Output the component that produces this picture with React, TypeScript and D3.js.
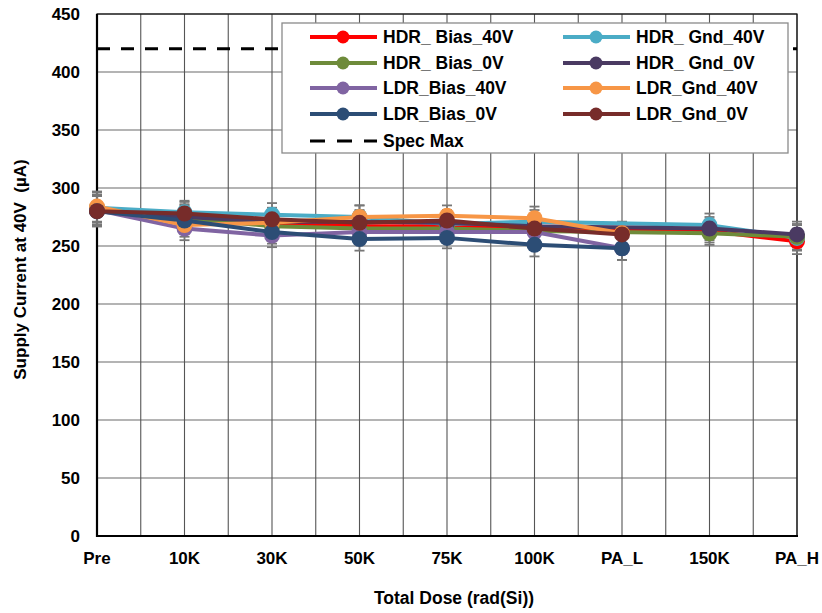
import React from "react";
import * as d3 from "d3";

const categories = ["Pre", "10K", "30K", "50K", "75K", "100K", "PA_L", "150K", "PA_H"];
const yTicks = [0, 50, 100, 150, 200, 250, 300, 350, 400, 450];

// null = no measurement at that step
const hdrBias40 = [281, 276, 270, 267, 267, 265, null, 263, 254];
const hdrGnd40 = [283, 279, 277, 275, 269, 271, null, 268, 257];
const hdrBias0 = [281, 274, 267, 265, 265, 263, null, 261, 258];
const hdrGnd0 = [280, 275, 271, 271, 270, 267, null, 265, 260];
const ldrBias40 = [281, 265, 259, 262, 262, 262, 248, null, null];
const ldrGnd40 = [284, 268, 270, 275, 276, 274, 261, null, null];
const ldrBias0 = [280, 272, 262, 256, 257, 251, 248, null, null];
const ldrGnd0 = [280, 278, 273, 270, 272, 265, 260, null, null];
const errorBars = [13, 10, 10, 10, 9, 10, 10, 10, 11];
const specMax = 420;

const seriesNames = [
  "HDR_ Bias_40V", "HDR_ Gnd_40V", "HDR_ Bias_0V", "HDR_ Gnd_0V",
  "LDR_Bias_40V", "LDR_Gnd_40V", "LDR_Bias_0V", "LDR_Gnd_0V",
];
const seriesValues = [hdrBias40, hdrGnd40, hdrBias0, hdrGnd0, ldrBias40, ldrGnd40, ldrBias0, ldrGnd0];
const seriesColors = ["#FF0000", "#4BACC6", "#6E8B3A", "#4A3A62", "#8064A2", "#F79646", "#2C4D75", "#772C2A"];

const W = 822, H = 613;
const L = 97, R = 797, T = 14, B = 536;
const FONT = "Liberation Sans, Arial, sans-serif";

export default function App() {
  const x = d3.scalePoint<string>().domain(categories).range([L, R]).padding(0);
  const y = d3.scaleLinear().domain([0, 450]).range([B, T]);
  const step = x.step();

  const vGrid: number[] = [];
  categories.forEach((c, i) => {
    vGrid.push(x(c)!);
    if (i < categories.length - 1) vGrid.push(x(c)! + step / 2);
  });

  const line = d3
    .line<{ c: string; v: number }>()
    .x((d) => x(d.c)!)
    .y((d) => y(d.v));

  const seriesPts = seriesValues.map((vals) =>
    vals
      .map((v, i) => ({ c: categories[i], v: v as number, e: errorBars[i] }))
      .filter((d) => d.v !== null && d.v !== undefined)
  );

  const legendX = 282, legendY = 23, legendW = 506, legendH = 130;
  const rowY = [37, 63, 88, 114, 141];
  const colX = [310, 563];

  return (
    <svg width={W} height={H} style={{ position: "absolute", left: 0, top: 0, background: "#fff" }} fontFamily={FONT}>
      <rect x={0} y={0} width={W} height={H} fill="#fff" />
      {/* horizontal grid */}
      {yTicks.map((t) => (
        <line key={"h" + t} x1={L} x2={R} y1={y(t)} y2={y(t)} stroke="#6b6b6b" strokeWidth={1.2} />
      ))}
      {/* vertical grid */}
      {vGrid.map((gx, i) => (
        <line key={"v" + i} x1={gx} x2={gx} y1={T} y2={B} stroke="#555" strokeWidth={1.1} />
      ))}
      {/* plot border */}
      <rect x={L} y={T} width={R - L} height={B - T} fill="none" stroke="#111" strokeWidth={1.2} />
      <line x1={L} x2={L} y1={T} y2={B + 1} stroke="#000" strokeWidth={2.2} />
      <line x1={L} x2={R + 1} y1={B} y2={B} stroke="#000" strokeWidth={2.2} />

      {/* spec max */}
      <line x1={L} x2={R} y1={y(specMax)} y2={y(specMax)} stroke="#000" strokeWidth={3} strokeDasharray="13,11" />

      {/* error bars */}
      {seriesPts.map((pts, si) =>
        pts.map((d, i) => {
          const cx = x(d.c)!;
          const y1 = y(d.v + d.e), y2 = y(d.v - d.e);
          return (
            <g key={"e" + si + "-" + i} stroke="#777" strokeWidth={1.8}>
              <line x1={cx} x2={cx} y1={y1} y2={y2} />
              <line x1={cx - 5} x2={cx + 5} y1={y1} y2={y1} />
              <line x1={cx - 5} x2={cx + 5} y1={y2} y2={y2} />
            </g>
          );
        })
      )}

      {/* series */}
      {seriesPts.map((pts, si) => (
        <g key={"s" + si}>
          <path d={line(pts) || ""} fill="none" stroke={seriesColors[si]} strokeWidth={4} strokeLinejoin="round" />
          {pts.map((d, i) => (
            <circle key={i} cx={x(d.c)!} cy={y(d.v)} r={8} fill={seriesColors[si]} />
          ))}
        </g>
      ))}

      {/* y tick labels */}
      {yTicks.map((t) => (
        <text key={"yl" + t} x={80} y={y(t)} dy="0.35em" textAnchor="end" fontSize={17} fontWeight="bold" fill="#000">
          {t}
        </text>
      ))}
      {/* x tick labels */}
      {categories.map((c) => (
        <text key={"xl" + c} x={x(c)!} y={564} textAnchor="middle" fontSize={17} fontWeight="bold" fill="#000">
          {c}
        </text>
      ))}

      {/* axis titles */}
      <text x={454} y={604} textAnchor="middle" fontSize={17.5} fontWeight="bold" fill="#000">
        Total Dose (rad(Si))
      </text>
      <text
        transform={`translate(26, ${(157 + 382) / 2}) rotate(-90)`}
        textAnchor="middle"
        fontSize={17}
        fontWeight="bold"
        fill="#000"
        style={{ whiteSpace: "pre" }}
      >
        {"Supply Current at 40V  (µA)"}
      </text>

      {/* legend */}
      <rect x={legendX} y={legendY} width={legendW} height={legendH} fill="#fff" stroke="#8a8a8a" strokeWidth={1.3} />
      {seriesNames.map((name, i) => {
        const col = i % 2, row = Math.floor(i / 2);
        const lx = colX[col], ly = rowY[row];
        return (
          <g key={"lg" + i}>
            <line x1={lx} x2={lx + 67} y1={ly} y2={ly} stroke={seriesColors[i]} strokeWidth={4} />
            <circle cx={lx + 33} cy={ly} r={6.5} fill={seriesColors[i]} />
            <text x={lx + 73} y={ly} dy="0.35em" fontSize={17.5} fontWeight="bold" fill="#000" style={{ whiteSpace: "pre" }}>
              {name}
            </text>
          </g>
        );
      })}
      <line x1={colX[0]} x2={colX[0] + 67} y1={rowY[4]} y2={rowY[4]} stroke="#000" strokeWidth={3} strokeDasharray="15,12" />
      <text x={colX[0] + 73} y={rowY[4]} dy="0.35em" fontSize={17.5} fontWeight="bold" fill="#000">
        Spec Max
      </text>
    </svg>
  );
}
